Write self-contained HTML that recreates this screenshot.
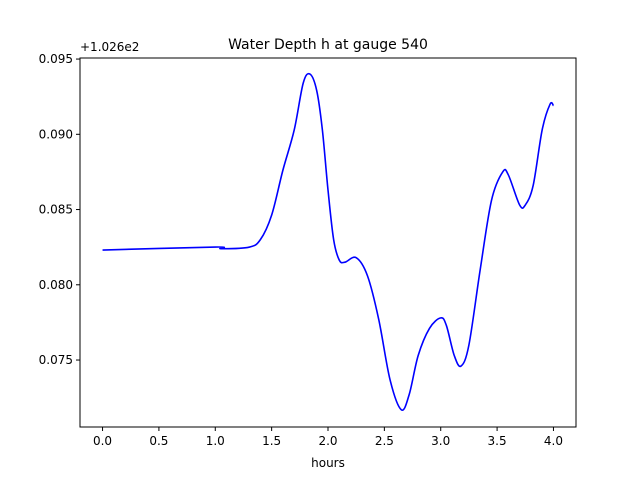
<!DOCTYPE html>
<html><head><meta charset="utf-8"><style>
body{margin:0;background:#fff;}
text{font-family:"DejaVu Sans","Liberation Sans",sans-serif;fill:#000;}
</style></head><body>
<svg width="640" height="480" viewBox="0 0 640 480">
<rect width="640" height="480" fill="#fff"/>
<text x="328" y="49" font-size="14" text-anchor="middle">Water Depth h at gauge 540</text>
<text x="80" y="51" font-size="12">+1.026e2</text>
<g id="xt"></g>
<g id="yt"></g>
<path id="line" fill="none" stroke="#0000ff" stroke-width="1.6"/>
<rect x="80" y="58" width="496" height="369" fill="none" stroke="#000" stroke-width="1"/>
<text x="328" y="467" font-size="12" text-anchor="middle">hours</text>
</svg>
<script>
const hours=[0,1.0,1.05,1.3,1.4,1.5,1.6,1.7,1.78,1.84,1.9,1.95,2.0,2.05,2.1,2.15,2.25,2.35,2.45,2.55,2.65,2.72,2.8,2.9,3.0,3.05,3.12,3.18,3.25,3.35,3.45,3.55,3.6,3.7,3.75,3.82,3.9,3.97,4.0];
const depth=[0.08231,0.08251,0.0824,0.0825,0.0830,0.08463,0.08762,0.09028,0.0934,0.0940,0.0929,0.0903,0.0863,0.0830,0.08164,0.0815,0.0818,0.0806,0.0777,0.0737,0.0717,0.0727,0.0753,0.0771,0.0778,0.0773,0.0753,0.0746,0.0760,0.0810,0.0856,0.0875,0.0873,0.0853,0.0853,0.0866,0.0903,0.0920,0.0919];
const xTicks=[0,0.5,1.0,1.5,2.0,2.5,3.0,3.5,4.0];
const xTickLabels=["0.0","0.5","1.0","1.5","2.0","2.5","3.0","3.5","4.0"];
const yTicks=[0.075,0.080,0.085,0.090,0.095];
const yTickLabels=["0.075","0.080","0.085","0.090","0.095"];
const X0=80,X1=576,Y0=427,Y1=58,xmin=-0.2,xmax=4.2,ymin=0.07055,ymax=0.09507;
const sx=v=>X0+(v-xmin)/(xmax-xmin)*(X1-X0);
const sy=v=>Y0-(v-ymin)/(ymax-ymin)*(Y0-Y1);
const NS="http://www.w3.org/2000/svg";
function mk(t,a){const e=document.createElementNS(NS,t);for(const k in a)e.setAttribute(k,a[k]);return e;}
const xt=document.getElementById('xt');
xTicks.forEach((v,i)=>{
 const l=mk('line',{x1:sx(v),x2:sx(v),y1:Y0,y2:Y0+4,stroke:'#000'});
 
 
 xt.appendChild(l);
 const t=mk('text',{x:sx(v),y:Y0+18,'font-size':12,'text-anchor':'middle'});
 
 
 t.textContent=xTickLabels[i];xt.appendChild(t);
});
const yt=document.getElementById('yt');
yTicks.forEach((v,i)=>{
 const l=mk('line',{x1:X0-4,x2:X0,y1:sy(v),y2:sy(v),stroke:'#000'});
 
 
 yt.appendChild(l);
 const t=mk('text',{x:X0-7,y:sy(v)+4,'font-size':12,'text-anchor':'end'});
 
 
 t.textContent=yTickLabels[i];yt.appendChild(t);
});
const P=hours.map((h,i)=>[sx(h),sy(depth[i])]);
let d='M'+P[0][0]+' '+P[0][1];
for(let i=0;i<P.length-1;i++){
 const p0=P[Math.max(0,i-1)],p1=P[i],p2=P[i+1],p3=P[Math.min(P.length-1,i+2)];
 const c1=[p1[0]+(p2[0]-p0[0])/6,p1[1]+(p2[1]-p0[1])/6];
 const c2=[p2[0]-(p3[0]-p1[0])/6,p2[1]-(p3[1]-p1[1])/6];
 d+=` C${c1[0]} ${c1[1]} ${c2[0]} ${c2[1]} ${p2[0]} ${p2[1]}`;
}
document.getElementById('line').setAttribute('d',d);
</script>
</body></html>
